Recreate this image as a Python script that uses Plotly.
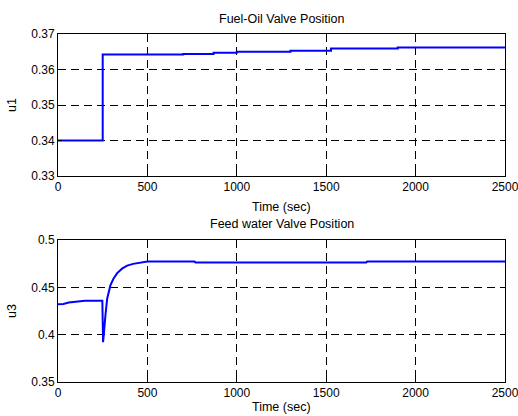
import plotly.graph_objects as go

# Top: Fuel-oil valve position (step-wise)
t_u1 = [0, 250, 700, 870, 1000, 1300, 1527, 1900, 2500]
u1 = [0.340, 0.3642, 0.3644, 0.3647, 0.3650, 0.3653, 0.3659, 0.3662, 0.3662]

# Bottom: feed water valve position
t_u3 = [0, 30, 60, 100, 150, 248, 250, 252, 256, 260, 265, 275, 293, 310, 331, 360, 387, 420, 444, 470, 500, 600, 763, 770, 1723, 1730, 2500]
u3 = [0.432, 0.4325, 0.434, 0.4348, 0.4358, 0.4358, 0.410, 0.392, 0.400, 0.412, 0.420, 0.438, 0.452, 0.459, 0.465, 0.470, 0.473, 0.4748, 0.4757, 0.4765, 0.4772, 0.4772, 0.4772, 0.4762, 0.4762, 0.4774, 0.4774]

x_ticks = [0, 500, 1000, 1500, 2000, 2500]
u1_ticks = [0.33, 0.34, 0.35, 0.36, 0.37]
u3_ticks = [0.35, 0.40, 0.45, 0.50]
u1_labels = ["0.33", "0.34", "0.35", "0.36", "0.37"]
u3_labels = ["0.35", "0.4", "0.45", "0.5"]

blue = "#0000FF"
fig = go.Figure()
fig.add_trace(go.Scatter(x=t_u1, y=u1, mode="lines", line=dict(color=blue, width=2, shape="hv"),
                         xaxis="x", yaxis="y", showlegend=False))
fig.add_trace(go.Scatter(x=t_u3, y=u3, mode="lines", line=dict(color=blue, width=2),
                         xaxis="x2", yaxis="y2", showlegend=False))

font = dict(family="Liberation Sans, Arial", size=12, color="black")
axcommon = dict(showline=True, linecolor="black", linewidth=1, mirror=True,
                ticks="inside", ticklen=4, tickcolor="black",
                showgrid=True, gridcolor="black", griddash="8px,5px", gridwidth=1,
                zeroline=False, tickfont=font, ticklabeloverflow="allow", automargin=False)

xd = [58/518, 505/518]
fig.update_layout(
    width=518, height=416,
    margin=dict(l=0, r=0, t=0, b=0, autoexpand=False),
    paper_bgcolor="white", plot_bgcolor="white",
    font=font,
    xaxis=dict(domain=xd, range=[0, 2500], tickvals=x_ticks, anchor="y", **axcommon),
    yaxis=dict(domain=[1-176/416, 1-34/416], range=[0.33, 0.37], tickvals=u1_ticks, ticktext=u1_labels,
               anchor="x", **axcommon),
    xaxis2=dict(domain=xd, range=[0, 2500], tickvals=x_ticks, anchor="y2", **axcommon),
    yaxis2=dict(domain=[1-382/416, 1-240/416], range=[0.35, 0.5], tickvals=u3_ticks, ticktext=u3_labels,
                anchor="x2", **axcommon),
)

tfont = dict(family="Liberation Sans, Arial", size=12.5, color="black")
ann = [
    dict(text="Fuel-Oil Valve Position", x=281.5/518, y=1-19/416),
    dict(text="Time (sec)", x=281.5/518, y=1-207/416),
    dict(text="u1", x=12/518, y=1-105/416, textangle=-90),
    dict(text="Feed water Valve Position", x=281.5/518, y=1-224/416),
    dict(text="Time (sec)", x=281.5/518, y=1-407/416),
    dict(text="u3", x=12/518, y=1-311/416, textangle=-90),
]
for a in ann:
    fig.add_annotation(xref="paper", yref="paper", showarrow=False, xanchor="center", yanchor="middle",
                       font=tfont, **a)

fig.write_html("out.html")
